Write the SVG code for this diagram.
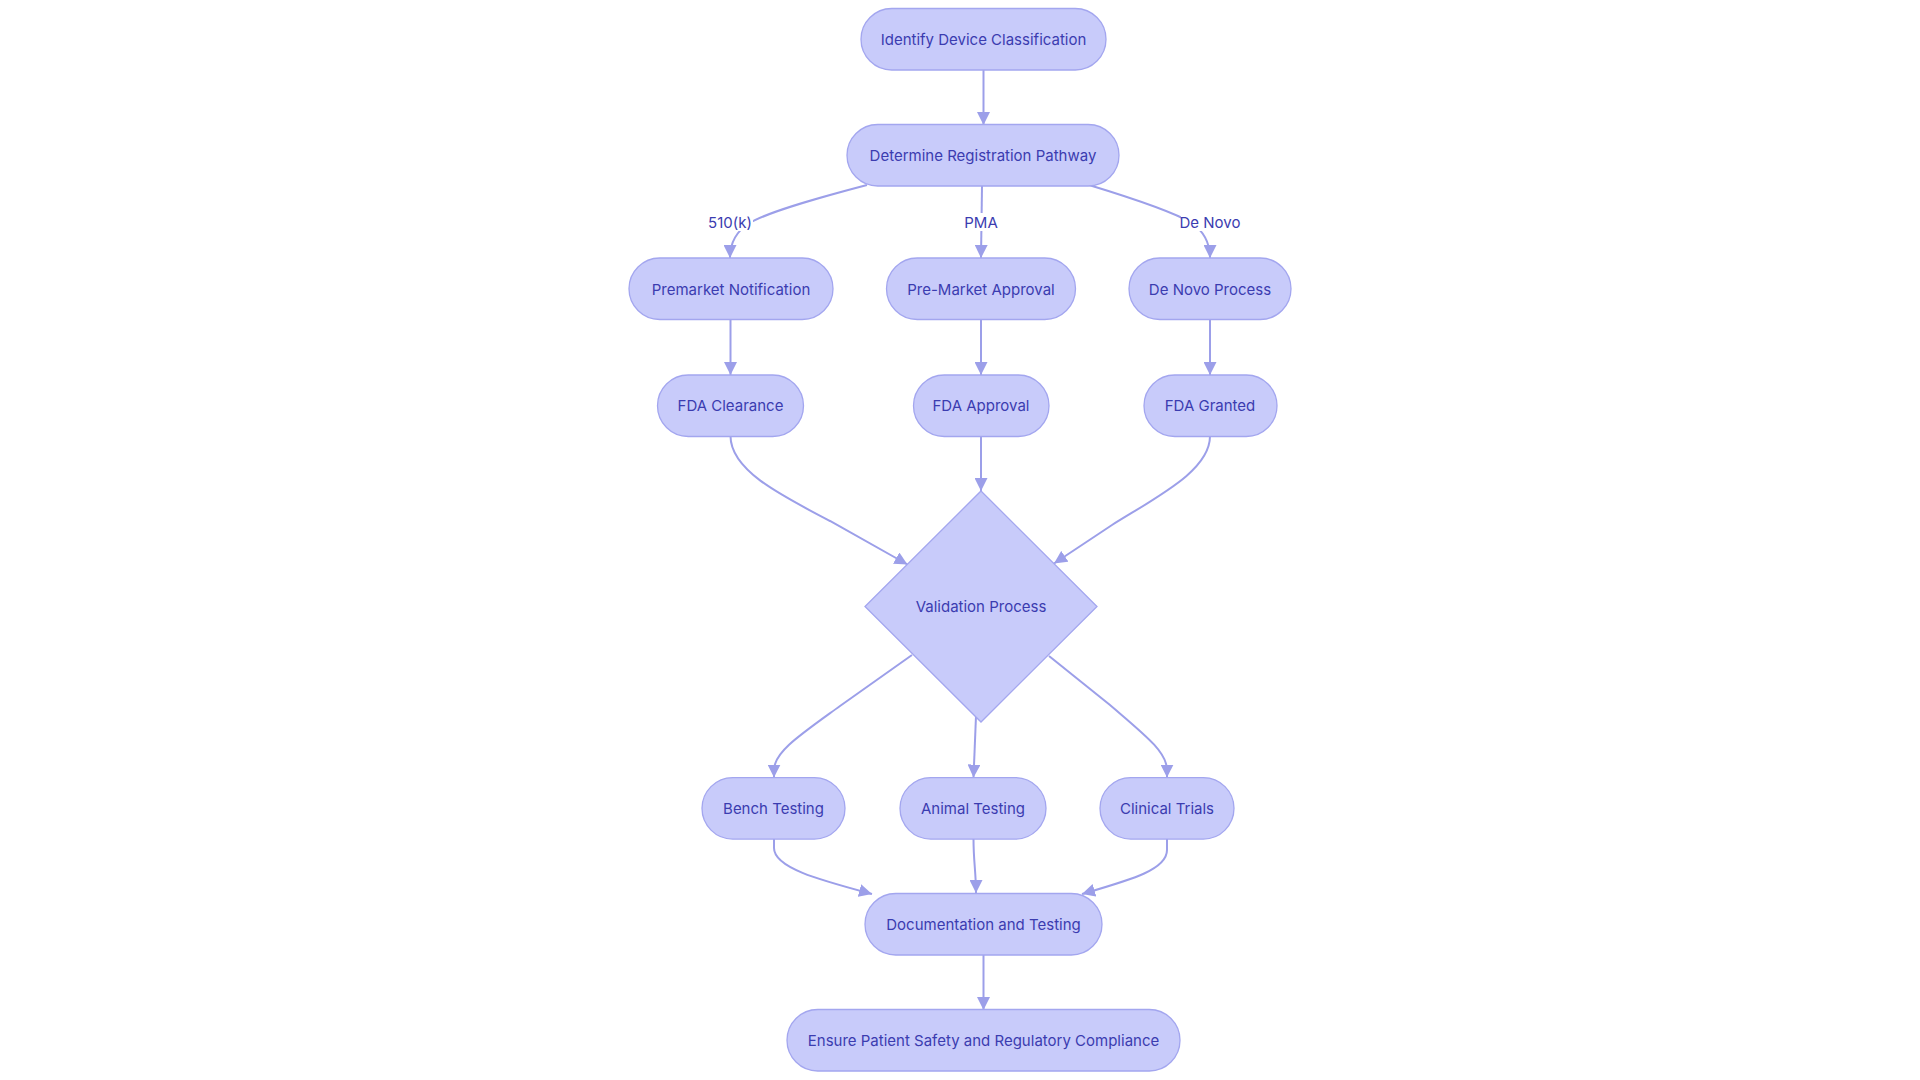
<svg xmlns="http://www.w3.org/2000/svg" width="1920" height="1080" viewBox="0 0 1920 1080">
<style>
.node rect,.node polygon{fill:#c8cbfa;stroke:#a3a6ef;stroke-width:1.3}
.node text,.lbl text{font-family:Inter,"Liberation Sans",sans-serif;font-size:15px;fill:#3b3cb0;text-anchor:middle;dominant-baseline:central}
.edge{fill:none;stroke:#9c9fe9;stroke-width:2;marker-end:url(#ah)}
.lbl rect{fill:#ffffff}
</style>
<defs>
<marker id="ah" viewBox="0 0 10 10" refX="10" refY="5" markerWidth="13" markerHeight="13" markerUnits="userSpaceOnUse" orient="auto">
<path d="M0,0 L10,5 L0,10 z" fill="#9c9fe9"/>
</marker>
</defs>
<rect width="1920" height="1080" fill="#ffffff"/>
<g id="connectors">
<path class="edge" d="M983.5,70 L983.5,125"/>
<path class="edge" d="M867,185 C810,200 765,213 748,224 Q730,236 730,258"/>
<path class="edge" d="M982,186 L981,258"/>
<path class="edge" d="M1089,185 C1135,199 1175,213 1192,223 Q1210,236 1210,258"/>
<path class="edge" d="M730.5,320 L730.5,375"/>
<path class="edge" d="M981,320 L981,375"/>
<path class="edge" d="M1210,320 L1210,375"/>
<path class="edge" d="M730.5,436 C730.5,470 780,495 830,521 L907.5,564.5"/>
<path class="edge" d="M981,436 L981,491"/>
<path class="edge" d="M1210,436 C1210,470 1160,495 1112,525 L1054,563.5"/>
<path class="edge" d="M912,655 L840,706 C800,735 774,752 774,770 L774,777.6"/>
<path class="edge" d="M976,716 L973.5,777.6"/>
<path class="edge" d="M1049,656 L1110,705 C1145,735 1167,752 1167,770 L1167,777.6"/>
<path class="edge" d="M774,839 L774,848 C774,868 820,880 872,894"/>
<path class="edge" d="M973.5,839 C973.5,862 976,872 976,893"/>
<path class="edge" d="M1167,839 L1167,850 C1167,870 1130,880 1082,894"/>
<path class="edge" d="M983.5,955 L983.5,1010"/>
</g>
<g class="lbl">
<g id="label-510k"><rect x="707" y="213" width="46" height="18"/><text x="730" y="222">510(k)</text></g>
<g id="label-pma"><rect x="965" y="213" width="32" height="18"/><text x="981" y="222">PMA</text></g>
<g id="label-denovo"><rect x="1181" y="213" width="58" height="18"/><text x="1210" y="222">De Novo</text></g>
</g>
<g id="identify" class="node"><rect x="861" y="8.5" width="245" height="61.5" rx="30.75"/><text x="983.5" y="39">Identify Device Classification</text></g>
<g id="determine" class="node"><rect x="847" y="124.5" width="272" height="61.5" rx="30.75"/><text x="983" y="155">Determine Registration Pathway</text></g>
<g id="premarket" class="node"><rect x="629" y="258" width="204" height="61.5" rx="30.75"/><text x="731" y="289">Premarket Notification</text></g>
<g id="pma" class="node"><rect x="886.5" y="258" width="189" height="61.5" rx="30.75"/><text x="981" y="289">Pre-Market Approval</text></g>
<g id="denovo" class="node"><rect x="1129" y="258" width="162" height="61.5" rx="30.75"/><text x="1210" y="289">De Novo Process</text></g>
<g id="clearance" class="node"><rect x="657.5" y="375" width="146" height="61.5" rx="30.75"/><text x="730.5" y="405.5">FDA Clearance</text></g>
<g id="approval" class="node"><rect x="913.5" y="375" width="135.5" height="61.5" rx="30.75"/><text x="981" y="405.5">FDA Approval</text></g>
<g id="granted" class="node"><rect x="1144" y="375" width="133" height="61.5" rx="30.75"/><text x="1210" y="405.5">FDA Granted</text></g>
<g id="validation" class="node"><polygon points="981,491 1097,606.5 981,722 865,606.5"/><text x="981" y="606.5">Validation Process</text></g>
<g id="bench" class="node"><rect x="702" y="777.6" width="143" height="61.5" rx="30.75"/><text x="773.5" y="808">Bench Testing</text></g>
<g id="animal" class="node"><rect x="900" y="777.6" width="146" height="61.5" rx="30.75"/><text x="973" y="808">Animal Testing</text></g>
<g id="clinical" class="node"><rect x="1100" y="777.6" width="134" height="61.5" rx="30.75"/><text x="1167" y="808">Clinical Trials</text></g>
<g id="documentation" class="node"><rect x="865" y="893.5" width="237" height="61.5" rx="30.75"/><text x="983.5" y="924">Documentation and Testing</text></g>
<g id="ensure" class="node"><rect x="787" y="1009.5" width="393" height="61.5" rx="30.75"/><text x="983.5" y="1040">Ensure Patient Safety and Regulatory Compliance</text></g>
</svg>
